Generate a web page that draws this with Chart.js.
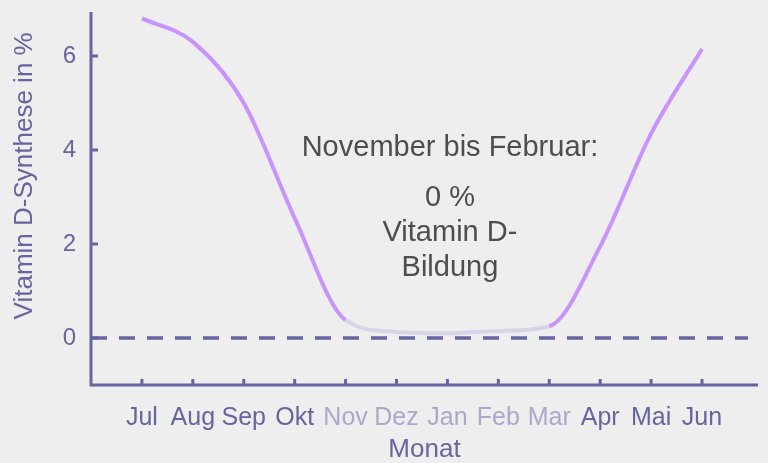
<!DOCTYPE html>
<html>
<head>
<meta charset="utf-8">
<script src="https://cdn.jsdelivr.net/npm/chart.js@4/dist/chart.umd.min.js"></script>
<style>
  html, body { margin: 0; padding: 0; background: #eeeeee; }
  #wrap { width: 768px; height: 463px; }
</style>
</head>
<body>
<div id="wrap"><canvas id="myChart" width="768" height="463"></canvas></div>
<script>
const months = ['Jul', 'Aug', 'Sep', 'Okt', 'Nov', 'Dez', 'Jan', 'Feb', 'Mar', 'Apr', 'Mai', 'Jun']
const synthese = [6.8, 6.3, 5.0, 2.55, 0.38, 0.13, 0.1, 0.15, 0.25, 1.95, 4.35, 6.15]
const yTicks = [0, 2, 4, 6]
const noteLines = ['November bis Februar:', '0 %', 'Vitamin D-', 'Bildung']
const yTitle = 'Vitamin D-Synthese in %'

const purple = '#65659f'
const faded = '#a9a9cc'
const lilac = '#c894fb'
const lilacFaded = '#d8d4e8'
const font = '"Liberation Sans", Arial, sans-serif'

// months Nov..Mar are drawn faded
function isWinter(i) { return i >= 4 && i <= 8 }

const axesPlugin = {
    id: 'axesPlugin',
    beforeDatasetsDraw(chart) {
        const ctx = chart.ctx
        const x = chart.scales.x, y = chart.scales.y
        const a = chart.chartArea
        ctx.save()
        // zero line
        ctx.strokeStyle = purple
        ctx.lineWidth = 3.5
        ctx.setLineDash([16, 12])
        ctx.beginPath()
        ctx.moveTo(a.left, y.getPixelForValue(0))
        ctx.lineTo(a.right - 10, y.getPixelForValue(0))
        ctx.stroke()
        ctx.setLineDash([])
        // axis lines
        ctx.lineWidth = 3
        ctx.beginPath()
        ctx.moveTo(a.left, a.top + 3)
        ctx.lineTo(a.left, a.bottom)
        ctx.lineTo(a.right, a.bottom)
        ctx.stroke()
        // tick marks pointing inward
        ctx.beginPath()
        months.forEach((m, i) => {
            const px = x.getPixelForValue(i + 1)
            ctx.moveTo(px, a.bottom)
            ctx.lineTo(px, a.bottom - 6)
        })
        yTicks.forEach(v => {
            const py = y.getPixelForValue(v)
            ctx.moveTo(a.left, py)
            ctx.lineTo(a.left + 7, py)
        })
        ctx.stroke()
        // y axis title, a bit above the middle like the original
        ctx.fillStyle = purple
        ctx.font = '26px ' + font
        ctx.textAlign = 'center'
        ctx.textBaseline = 'middle'
        ctx.translate(y.left + 25, y.getPixelForValue(3.45))
        ctx.rotate(-Math.PI / 2)
        ctx.fillText(yTitle, 0, 0)
        ctx.restore()
    },
    afterDatasetsDraw(chart) {
        const ctx = chart.ctx
        const x = chart.scales.x, y = chart.scales.y
        ctx.save()
        ctx.fillStyle = '#4d4d4d'
        ctx.textAlign = 'center'
        ctx.textBaseline = 'middle'
        ctx.font = '29px ' + font
        const cx = x.getPixelForValue(7.05)
        const rows = [4.04, 2.98, 2.23, 1.5]
        noteLines.forEach((t, i) => {
            ctx.fillText(t, cx, y.getPixelForValue(rows[i]))
        })
        ctx.restore()
    }
}

const ctx = document.getElementById('myChart').getContext('2d')
window.bar = new Chart(ctx, {
    type: 'line',
    data: {
        datasets: [{
            data: synthese.map((v, i) => ({ x: i + 1, y: v })),
            borderColor: lilac,
            borderWidth: 4,
            pointRadius: 0,
            cubicInterpolationMode: 'monotone',
            segment: {
                borderColor: c => (isWinter(c.p0DataIndex) && isWinter(c.p1DataIndex)) ? lilacFaded : lilac
            }
        }]
    },
    options: {
        responsive: false,
        animation: false,
        layout: { padding: { top: 9, right: 10, left: 0, bottom: 0 } },
        plugins: { legend: { display: false }, tooltip: { enabled: false } },
        scales: {
            x: {
                type: 'linear',
                min: 0,
                max: 13.1,
                afterBuildTicks: s => { s.ticks = months.map((m, i) => ({ value: i + 1 })) },
                afterFit: s => { s.height = 78; s.paddingLeft = 0; s.paddingRight = 0 },
                grid: { display: false, drawTicks: false },
                border: { display: false },
                ticks: {
                    autoSkip: false,
                    maxRotation: 0,
                    padding: 18,
                    font: { family: font, size: 25 },
                    color: c => isWinter(c.index) ? faded : purple,
                    callback: v => months[v - 1]
                },
                title: {
                    display: true,
                    text: 'Monat',
                    color: purple,
                    font: { family: font, size: 26 },
                    padding: { top: 0, bottom: -2 }
                }
            },
            y: {
                min: -1,
                max: 7,
                afterBuildTicks: s => { s.ticks = yTicks.map(v => ({ value: v })) },
                afterFit: s => { s.width = 91; s.paddingTop = 0; s.paddingBottom = 0 },
                grid: { display: false, drawTicks: false },
                border: { display: false },
                ticks: {
                    padding: 15,
                    font: { family: font, size: 24 },
                    color: purple
                }
            }
        }
    },
    plugins: [axesPlugin]
})
</script>
</body>
</html>
